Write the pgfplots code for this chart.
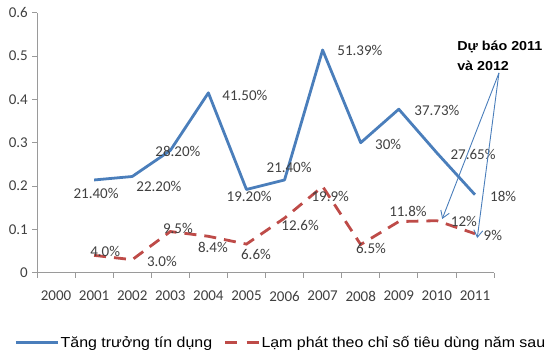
\documentclass[border=0pt]{standalone}
\usepackage{pgfplots}
\pgfplotsset{compat=1.18}
\usetikzlibrary{arrows.meta}
\usepackage{fontspec}
\setmainfont{Carlito}
\newfontfamily\arialf[FakeStretch=1.1]{Liberation Sans}
\definecolor{cblue}{HTML}{4A7EBB}
\definecolor{cred}{HTML}{BE4B48}
\definecolor{txt}{HTML}{404040}
\definecolor{axc}{HTML}{9A9A9A}
\pgfplotsset{
  bleg/.style={legend image code/.code={\draw[##1] (0pt,0pt) -- (42pt,0pt);}},
  rleg/.style={legend image code/.code={\draw[##1, dash pattern=on 12pt off 9.5pt] (0pt,0pt) -- (33.5pt,0pt);}},
}
\begin{document}
\begin{tikzpicture}
\begin{axis}[
  scale only axis, width=457pt, height=260pt,
  xmin=1999.5, xmax=2011.5, ymin=0, ymax=0.6,
  clip=false,
  axis x line*=bottom, axis y line*=left,
  axis line style={axc, line width=0.8pt},
  xtick={2000,2001,2002,2003,2004,2005,2006,2007,2008,2009,2010,2011},
  xticklabels={2000,2001,2002,2003,2004,2005,2006,2007,2008,2009,2010,2011},
  major x tick style={draw=none},
  minor xtick={1999.5,2000.5,2001.5,2002.5,2003.5,2004.5,2005.5,2006.5,2007.5,2008.5,2009.5,2010.5,2011.5},
  ytick={0,0.1,0.2,0.3,0.4,0.5,0.6},
  yticklabels={0,0.1,0.2,0.3,0.4,0.5,0.6},
  tick align=outside,
  tick style={axc, line width=0.8pt},
  major tick length=5pt, minor tick length=5pt,
  ticklabel style={font=\fontsize{15}{17}\selectfont, text=txt},
  yticklabel style={inner sep=0pt, xshift=-4pt},
  xticklabel style={inner sep=0pt, yshift=-13pt},
  legend style={at={(0.533,-0.270)}, anchor=center, draw=none, fill=none,
    legend columns=2, font=\arialf\fontsize{14.5}{16}\selectfont,
    nodes={inner sep=1.5pt},
    /tikz/every even column/.append style={column sep=10pt}},
  legend cell align=left,
]
\addplot[cblue, line width=2.8pt, line join=round, bleg]
  coordinates {(2001,0.214) (2002,0.222) (2003,0.282) (2004,0.415) (2005,0.192)
   (2006,0.214) (2007,0.5139) (2008,0.30) (2009,0.3773) (2010,0.2765) (2011,0.18)};
\addlegendentry{Tăng trưởng tín dụng}
\addplot[cred, line width=2.8pt, dash pattern=on 12pt off 8pt, rleg]
  coordinates {(2001,0.04) (2002,0.03) (2003,0.095) (2004,0.084) (2005,0.066)
   (2006,0.126) (2007,0.199) (2008,0.065) (2009,0.118) (2010,0.12) (2011,0.09)};
\addlegendentry{Lạm phát theo chỉ số tiêu dùng năm sau}
% data labels
\begin{scope}[every node/.style={font=\fontsize{15}{17}\selectfont, text=txt, inner sep=0pt}]
\node at (axis cs:2001.05,0.182) {21.40\%};
\node at (axis cs:2002.70,0.198) {22.20\%};
\node at (axis cs:2003.20,0.279) {28.20\%};
\node at (axis cs:2004.96,0.410) {41.50\%};
\node at (axis cs:2005.07,0.175) {19.20\%};
\node at (axis cs:2006.12,0.244) {21.40\%};
\node at (axis cs:2007.98,0.512) {51.39\%};
\node at (axis cs:2008.72,0.297) {30\%};
\node at (axis cs:2010.00,0.375) {37.73\%};
\node at (axis cs:2010.95,0.274) {27.65\%};
\node at (axis cs:2011.74,0.175) {18\%};
\node at (axis cs:2001.29,0.050) {4.0\%};
\node at (axis cs:2002.78,0.027) {3.0\%};
\node at (axis cs:2003.20,0.103) {9.5\%};
\node at (axis cs:2004.12,0.059) {8.4\%};
\node at (axis cs:2005.25,0.041) {6.6\%};
\node at (axis cs:2006.41,0.108) {12.6\%};
\node at (axis cs:2007.20,0.177) {19.9\%};
\node at (axis cs:2008.27,0.055) {6.5\%};
\node at (axis cs:2009.24,0.142) {11.8\%};
\node at (axis cs:2010.71,0.119) {12\%};
\node at (axis cs:2011.47,0.085) {9\%};
\end{scope}
\node[anchor=west, align=left, inner sep=0pt,
  font=\arialf\bfseries\fontsize{13}{20}\selectfont]
  at (axis cs:2010.53,0.500) {Dự báo 2011\\và 2012};
\draw[cblue, line width=0.9pt, -{Straight Barb[length=7pt,width=9pt]}]
  (axis cs:2011.63,0.461) -- (axis cs:2010.14,0.124);
\draw[cblue, line width=0.9pt, -{Straight Barb[length=7pt,width=9pt]}]
  (axis cs:2011.63,0.461) -- (axis cs:2011.06,0.080);
\end{axis}
\pgfresetboundingbox
\path (-37pt,-91.3pt) rectangle (513pt,272.7pt);
\end{tikzpicture}
\end{document}
